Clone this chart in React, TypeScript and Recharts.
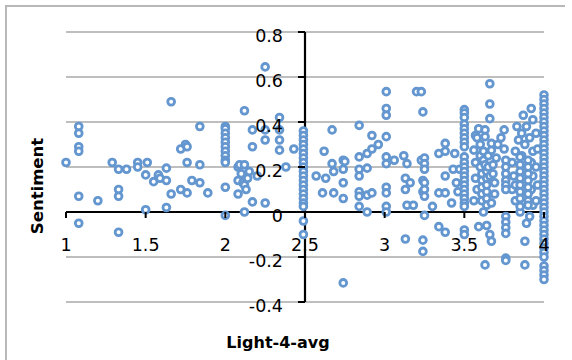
import React from 'react';
import { ScatterChart, Scatter, XAxis, YAxis, CartesianGrid, ReferenceLine } from 'recharts';

// ---- data ----
const xTicks = [1, 1.5, 2, 2.5, 3, 3.5, 4];
const yTicks = [-0.4, -0.2, 0, 0.2, 0.4, 0.6, 0.8];
const xTitle = 'Light-4-avg';
const yTitle = 'Sentiment';

const lowPoints: [number, number][] = [
  [1.0, 0.22], [1.08, 0.38], [1.08, 0.35], [1.08, 0.29], [1.08, 0.27], [1.08, 0.07], [1.08, -0.05],
  [1.2, 0.05], [1.29, 0.22], [1.33, 0.19], [1.33, 0.1], [1.33, 0.07], [1.33, -0.09], [1.38, 0.19],
  [1.45, 0.22], [1.45, 0.2], [1.51, 0.22], [1.5, 0.165], [1.5, 0.01], [1.55, 0.135], [1.58, 0.165],
  [1.59, 0.15], [1.63, 0.195], [1.63, 0.14], [1.63, 0.02], [1.66, 0.49], [1.66, 0.08], [1.72, 0.28],
  [1.72, 0.1], [1.75, 0.3], [1.76, 0.22], [1.76, 0.29], [1.76, 0.085], [1.79, 0.14], [1.84, 0.38],
  [1.84, 0.21], [1.84, 0.13], [1.89, 0.085],
];

const col2: number[] = [0.38, 0.37, 0.35, 0.33, 0.31, 0.29, 0.27, 0.25, 0.23, 0.22, 0.11, -0.015];

const midLowPoints: [number, number][] = [
  [2.08, 0.2], [2.08, 0.14], [2.08, 0.08], [2.09, 0.21], [2.1, 0.17], [2.11, 0.13], [2.12, 0.21],
  [2.12, 0.45], [2.12, 0.0], [2.12, 0.12], [2.13, 0.1], [2.14, 0.15], [2.15, 0.18], [2.17, 0.365],
  [2.17, 0.29], [2.17, 0.045], [2.2, 0.16], [2.25, 0.645], [2.25, 0.365], [2.25, 0.32], [2.25, 0.04],
  [2.34, 0.42], [2.34, 0.365], [2.34, 0.32], [2.34, 0.275], [2.38, 0.2], [2.43, 0.28],
];

const col25: number[] = [0.36, 0.34, 0.32, 0.3, 0.28, 0.26, 0.24, 0.22, 0.2, 0.18, 0.16, 0.14, 0.12, 0.1,
  0.08, 0.06, 0.04, 0.025, -0.04, -0.1];

const midPoints: [number, number][] = [
  [2.57, 0.16], [2.61, 0.085], [2.62, 0.27], [2.63, 0.15], [2.67, 0.365], [2.67, 0.215], [2.68, 0.18],
  [2.68, 0.085], [2.74, 0.23], [2.74, 0.19], [2.74, 0.13], [2.74, 0.06], [2.74, -0.315], [2.75, 0.225],
  [2.84, 0.385], [2.84, 0.245], [2.84, 0.19], [2.84, 0.16], [2.84, 0.09], [2.84, 0.07], [2.84, 0.025],
  [2.89, 0.26], [2.89, 0.195], [2.89, 0.075], [2.89, 0.0], [2.92, 0.34], [2.92, 0.28], [2.92, 0.085],
  [2.96, 0.3], [3.01, 0.535], [3.01, 0.46], [3.01, 0.43], [3.01, 0.335], [3.01, 0.245], [3.01, 0.215],
  [3.01, 0.11], [3.01, 0.085], [3.01, 0.025], [3.01, 0.0], [3.06, 0.23], [3.12, 0.25], [3.14, 0.215],
  [3.13, 0.15], [3.16, 0.13], [3.13, 0.1], [3.14, 0.03], [3.18, 0.03], [3.13, -0.12], [3.2, 0.535],
  [3.23, 0.23], [3.24, 0.445], [3.24, 0.14], [3.24, 0.09], [3.24, -0.125], [3.24, -0.175],
];

const highPoints: [number, number][] = [
  [3.23, 0.535], [3.25, 0.24], [3.25, 0.215], [3.25, 0.19], [3.25, 0.13], [3.25, 0.1], [3.25, 0.07],
  [3.25, -0.015], [3.3, 0.025], [3.34, 0.26], [3.34, 0.085], [3.34, -0.065], [3.38, 0.305], [3.38, 0.27],
  [3.38, 0.16], [3.38, 0.085], [3.38, -0.09], [3.42, 0.04], [3.43, 0.19], [3.44, 0.26], [3.45, 0.13],
  [3.46, 0.09], [3.47, 0.19],
  [3.56, 0.275], [3.56, 0.05], [3.57, 0.15], [3.57, 0.22], [3.57, 0.34], [3.58, 0.33], [3.58, 0.1],
  [3.59, 0.37], [3.59, -0.065], [3.6, 0.3], [3.6, 0.2], [3.6, 0.25],
  [3.61, 0.17], [3.61, 0.14], [3.61, 0.11], [3.61, 0.08], [3.61, 0.05], [3.62, 0.23], [3.62, 0.27],
  [3.62, 0.0], [3.63, 0.21],
  [3.63, 0.365], [3.63, 0.335], [3.63, -0.235], [3.64, 0.18], [3.64, 0.15], [3.64, 0.12], [3.64, 0.09],
  [3.64, 0.06], [3.64, 0.03], [3.64, -0.06], [3.65, 0.25], [3.65, 0.2], [3.66, 0.57], [3.66, 0.48],
  [3.66, 0.415], [3.66, 0.16], [3.66, -0.1], [3.67, 0.275], [3.67, 0.305], [3.67, 0.04], [3.67, -0.13],
  [3.68, 0.21], [3.68, 0.17], [3.69, 0.13], [3.69, 0.08], [3.7, 0.24], [3.71, 0.3], [3.73, 0.33],
  [3.75, 0.365], [3.75, 0.28], [3.8, 0.22], [3.8, 0.1], [3.81, 0.16], [3.82, 0.27], [3.82, 0.12],
  [3.82, 0.05], [3.83, 0.38], [3.84, 0.32], [3.85, 0.0], [3.86, 0.35], [3.86, 0.25], [3.87, 0.43],
  [3.87, 0.19], [3.87, 0.07], [3.88, 0.3], [3.89, 0.38], [3.91, 0.33], [3.91, -0.02], [3.92, 0.46],
  [3.92, 0.22], [3.92, 0.1], [3.93, 0.41], [3.93, 0.27], [3.93, 0.16], [3.93, 0.03], [3.88, -0.13],
  [3.88, -0.235], [3.89, -0.05], [3.95, 0.35], [3.96, 0.28], [3.95, 0.2], [3.96, 0.12], [3.95, 0.05],
];

const col35: number[] = [0.455, 0.44, 0.42, 0.39, 0.37, 0.35, 0.33, 0.31, 0.29, 0.245, 0.22, 0.2, 0.18,
  0.16, 0.14, 0.12, 0.1, 0.08, 0.06, 0.04, 0.025, -0.08, -0.1];
const col376: number[] = [0.23, 0.2, 0.17, 0.14, 0.12, 0.1, -0.02, -0.045, -0.07, -0.095, -0.205, -0.215];
const col385: number[] = [0.245, 0.21, 0.18, 0.15, 0.12, 0.09, 0.06, 0.025];
const col39: number[] = [0.23, 0.2, 0.17, 0.14, 0.11, 0.08, 0.05, 0.03];
const col4: number[] = [0.52, 0.5, 0.48, 0.46, 0.44, 0.42, 0.4, 0.38, 0.36, 0.34, 0.32, 0.3, 0.28, 0.26,
  0.24, 0.22, 0.2, 0.18, 0.16, 0.14, 0.12, 0.1, 0.08, 0.06, 0.04, 0.02, 0.0, -0.02, -0.04, -0.06, -0.08,
  -0.1, -0.12, -0.14, -0.16, -0.18, -0.2, -0.24, -0.26, -0.28, -0.3];

const columns: [number, number[]][] = [
  [2.0, col2], [2.49, col25], [3.5, col35], [3.76, col376], [3.85, col385], [3.9, col39], [4.0, col4],
];

const data = [
  ...lowPoints, ...midLowPoints, ...midPoints, ...highPoints,
  ...columns.flatMap(([cx, ys]) => ys.map((y) => [cx, y] as [number, number])),
].map(([x, y]) => ({ x, y }));

// ---- styling ----
const FONT = '"DejaVu Sans", sans-serif';
const MARK = '#6496cf';
const AXIS_X_PX = 305; // pixel column where the value axis crosses
const AXIS_Y_PX = 212; // pixel row where the category axis crosses

const renderXTick = (props: any) => {
  const { x, payload } = props;
  return (
    <g key={`xt-${payload.value}`}>
      <text x={x} y={251} textAnchor="middle" fontFamily={FONT} fontSize={17.5} fill="#000">
        {String(payload.value)}
      </text>
      <line x1={x} x2={x} y1={AXIS_Y_PX} y2={AXIS_Y_PX + 6} stroke="#000" strokeWidth={2} />
    </g>
  );
};

const renderYTick = (props: any) => {
  const { y, payload } = props;
  return (
    <g key={`yt-${payload.value}`}>
      <text x={283} y={y + 9.5} textAnchor="end" fontFamily={FONT} fontSize={17.5} fill="#000">
        {String(payload.value)}
      </text>
      <line x1={AXIS_X_PX - 7} x2={AXIS_X_PX} y1={y} y2={y} stroke="#000" strokeWidth={2} />
    </g>
  );
};

const Marker = (props: any) => (
  <circle cx={props.cx} cy={props.cy} r={3.4} fill="#fff" stroke={MARK} strokeWidth={2.8} />
);

export default function App() {
  return (
    <div style={{ position: 'absolute', left: 0, top: 0, width: 572, height: 360, background: '#fff' }}>
      <div
        style={{
          position: 'absolute', left: 5, top: 5, width: 560, height: 360,
          borderLeft: '2px solid #b8b8b8', borderTop: '2px solid #b8b8b8', boxSizing: 'border-box',
        }}
      />
      <div style={{ position: 'absolute', left: 0, top: 0 }}>
        <ScatterChart width={572} height={360} margin={{ left: 65, right: 28, top: 32, bottom: 57 }}>
          <CartesianGrid vertical={false} stroke="#a8a8a8" strokeWidth={1.4} />
          <XAxis
            type="number" dataKey="x" domain={[1, 4]} ticks={xTicks} interval={0}
            axisLine={false} tickLine={false} height={1} tick={renderXTick}
          />
          <YAxis
            type="number" dataKey="y" domain={[-0.4, 0.8]} ticks={yTicks} interval={0}
            axisLine={false} tickLine={false} width={1} tick={renderYTick}
          />
          <ReferenceLine x={2.5} stroke="#000" strokeWidth={2.2} />
          <ReferenceLine y={0} stroke="#000" strokeWidth={2.2} />
          <Scatter data={data} isAnimationActive={false} shape={<Marker />} />
        </ScatterChart>
      </div>
      <svg width={572} height={360} style={{ position: 'absolute', left: 0, top: 0, pointerEvents: 'none' }}>
        <text x={278} y={348} textAnchor="middle" fontFamily={FONT} fontWeight="bold" fontSize={16} fill="#000">
          {xTitle}
        </text>
        <text
          x={0} y={0} textAnchor="middle" fontFamily={FONT} fontWeight="bold" fontSize={16.5} fill="#000"
          transform="translate(43,186) rotate(-90)"
        >
          {yTitle}
        </text>
      </svg>
    </div>
  );
}
